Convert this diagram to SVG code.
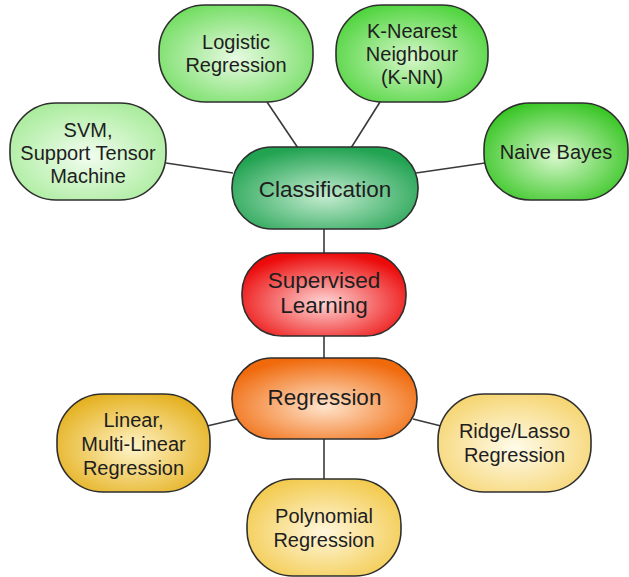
<svg xmlns="http://www.w3.org/2000/svg" width="629" height="577" viewBox="0 0 629 577">
<style>
.n{stroke:#2e2e2e;stroke-width:1.6}
.t{font-family:"Liberation Sans",Arial,sans-serif;fill:#1e1e1e;text-anchor:middle}
.s{font-size:20px}
.b{font-size:22.5px}
.c line{stroke:#3a3a3a;stroke-width:1.6}
</style>
<defs>
<radialGradient id="gCls" cx="50%" cy="60%" r="60%"><stop offset="0" stop-color="#c4ecd0"/><stop offset="1" stop-color="#22a352"/></radialGradient>
<radialGradient id="gSup" cx="50%" cy="60%" r="60%"><stop offset="0" stop-color="#ffd6d6"/><stop offset="1" stop-color="#ec0a0a"/></radialGradient>
<radialGradient id="gReg" cx="50%" cy="60%" r="60%"><stop offset="0" stop-color="#ffe4cc"/><stop offset="1" stop-color="#f06a0c"/></radialGradient>
<radialGradient id="gNai" cx="50%" cy="55%" r="62%"><stop offset="0" stop-color="#d8f8cc"/><stop offset="1" stop-color="#2ec21a"/></radialGradient>
<radialGradient id="gKnn" cx="50%" cy="55%" r="62%"><stop offset="0" stop-color="#d6f7ca"/><stop offset="1" stop-color="#48d236"/></radialGradient>
<radialGradient id="gLog" cx="50%" cy="55%" r="62%"><stop offset="0" stop-color="#e8fae2"/><stop offset="1" stop-color="#6ddc5c"/></radialGradient>
<radialGradient id="gSvm" cx="50%" cy="55%" r="62%"><stop offset="0" stop-color="#f2fdf0"/><stop offset="1" stop-color="#a6eb98"/></radialGradient>
<radialGradient id="gLin" cx="50%" cy="55%" r="62%"><stop offset="0" stop-color="#fff4c8"/><stop offset="1" stop-color="#e3ad16"/></radialGradient>
<radialGradient id="gPol" cx="50%" cy="55%" r="62%"><stop offset="0" stop-color="#fff7dc"/><stop offset="1" stop-color="#f2c846"/></radialGradient>
<radialGradient id="gRid" cx="50%" cy="55%" r="62%"><stop offset="0" stop-color="#fffbea"/><stop offset="1" stop-color="#f5d36c"/></radialGradient>
</defs>
<rect width="629" height="577" fill="#ffffff"/>
<g class="c" id="connectors">
<line x1="267" y1="102" x2="298" y2="148"/>
<line x1="166" y1="163" x2="233" y2="173"/>
<line x1="380" y1="102" x2="351" y2="148"/>
<line x1="416" y1="173" x2="485" y2="163"/>
<line x1="324" y1="229" x2="324" y2="253"/>
<line x1="324" y1="336" x2="324" y2="358"/>
<line x1="207" y1="426" x2="237" y2="419"/>
<line x1="413" y1="419" x2="441" y2="426"/>
<line x1="324" y1="439" x2="324" y2="479"/>
</g>
<g id="logistic"><rect class="n" x="159" y="5" width="154" height="97" rx="46" ry="46" fill="url(#gLog)"/>
<text class="t s" x="236" y="49">Logistic</text><text class="t s" x="236" y="72">Regression</text></g>
<g id="knn"><rect class="n" x="336" y="5" width="152" height="97" rx="46" ry="46" fill="url(#gKnn)"/>
<text class="t s" x="412" y="38">K-Nearest</text><text class="t s" x="412" y="61">Neighbour</text><text class="t s" x="412" y="84">(K-NN)</text></g>
<g id="svm"><rect class="n" x="10" y="103" width="156" height="97" rx="46" ry="46" fill="url(#gSvm)"/>
<text class="t s" x="88" y="137">SVM,</text><text class="t s" x="88" y="160">Support Tensor</text><text class="t s" x="88" y="183">Machine</text></g>
<g id="naive"><rect class="n" x="484" y="103" width="144" height="97" rx="46" ry="46" fill="url(#gNai)"/>
<text class="t s" x="556" y="159">Naive Bayes</text></g>
<g id="classification"><rect class="n" x="232" y="147" width="186" height="82" rx="40" ry="40" fill="url(#gCls)"/>
<text class="t b" x="325" y="197">Classification</text></g>
<g id="supervised"><rect class="n" x="242" y="253" width="164" height="83" rx="40" ry="40" fill="url(#gSup)"/>
<text class="t b" x="324" y="288">Supervised</text><text class="t b" x="324" y="313">Learning</text></g>
<g id="regression"><rect class="n" x="232" y="358" width="185" height="81" rx="40" ry="40" fill="url(#gReg)"/>
<text class="t b" x="324.5" y="405">Regression</text></g>
<g id="linear"><rect class="n" x="57" y="394" width="153" height="98" rx="46" ry="46" fill="url(#gLin)"/>
<text class="t s" x="133.5" y="427">Linear,</text><text class="t s" x="133.5" y="451">Multi-Linear</text><text class="t s" x="133.5" y="475">Regression</text></g>
<g id="ridge"><rect class="n" x="438" y="394" width="153" height="98" rx="46" ry="46" fill="url(#gRid)"/>
<text class="t s" x="514.5" y="438">Ridge/Lasso</text><text class="t s" x="514.5" y="462">Regression</text></g>
<g id="polynomial"><rect class="n" x="247" y="479" width="154" height="97" rx="46" ry="46" fill="url(#gPol)"/>
<text class="t s" x="324" y="523">Polynomial</text><text class="t s" x="324" y="547">Regression</text></g>
</svg>
